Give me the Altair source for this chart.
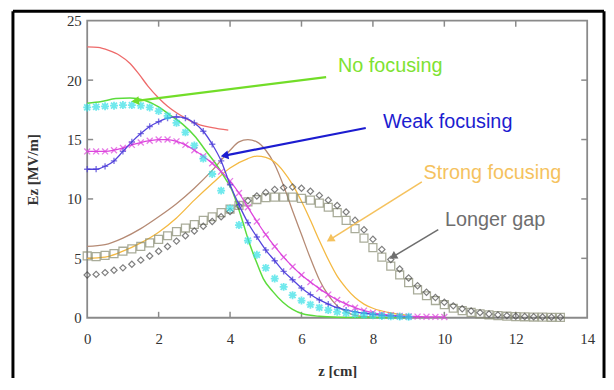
import math
import altair as alt
import pandas as pd

# ---------------- data ----------------
z_grid = [0.0, 0.25, 0.5, 0.75, 1.0, 1.25, 1.5, 1.75, 2.0, 2.25, 2.5, 2.75,
          3.0, 3.25, 3.5, 3.75, 4.0, 4.25, 4.5, 4.75, 5.0, 5.25, 5.5, 5.75,
          6.0, 6.25, 6.5, 6.75, 7.0, 7.25, 7.5, 7.75, 8.0, 8.25, 8.5, 8.75,
          9.0, 9.25, 9.5, 9.75, 10.0, 10.25, 10.5, 10.75, 11.0, 11.25, 11.5,
          11.75, 12.0, 12.25, 12.5, 12.75, 13.0, 13.25]

cyan_E = [17.7, 17.75, 17.8, 17.85, 17.9, 17.9, 17.85, 17.7, 17.4, 17.0, 16.4,
          15.6, 14.5, 13.4, 12.1, 10.7, 9.2, 7.8, 6.5, 5.3, 4.2, 3.3, 2.6, 1.9,
          1.45, 1.1, 0.85, 0.65, 0.5, 0.4, 0.3, 0.25, 0.2, 0.15, 0.12, 0.1, 0.08]

blue_E = [12.5, 12.5, 12.75, 13.2, 14.0, 14.8, 15.5, 16.1, 16.5, 16.8, 16.9,
          16.8, 16.4, 15.7, 14.6, 13.2, 11.2, 9.5, 8.0, 6.8, 5.7, 4.8, 3.9, 3.2,
          2.5, 1.95, 1.5, 1.15, 0.85, 0.65, 0.5, 0.38, 0.28, 0.2, 0.15, 0.1, 0.08]

magenta_E = [14.0, 14.0, 14.0, 14.1, 14.3, 14.55, 14.75, 14.9, 15.0, 15.0, 14.85,
             14.55, 14.1, 13.6, 13.0, 12.3, 11.5, 10.5, 9.3, 8.1, 7.0, 6.0, 5.1,
             4.3, 3.6, 3.0, 2.45, 1.95, 1.5, 1.15, 0.85, 0.6, 0.42, 0.3, 0.22,
             0.16, 0.12, 0.1, 0.08, 0.07, 0.06]

square_E = [5.2, 5.15, 5.25, 5.4, 5.6, 5.8, 6.0, 6.3, 6.6, 6.9, 7.25, 7.55, 7.85,
            8.2, 8.5, 8.85, 9.15, 9.45, 9.75, 9.95, 10.1, 10.15, 10.15, 10.15,
            10.05, 9.9, 9.65, 9.3, 8.85, 8.2, 7.5, 6.7, 5.9, 5.1, 4.35, 3.6, 2.95,
            2.35, 1.85, 1.45, 1.1, 0.8, 0.6, 0.45, 0.33, 0.25, 0.18, 0.13, 0.1,
            0.08, 0.06, 0.05, 0.04, 0.03]

diamond_E = [3.6, 3.65, 3.8, 4.0, 4.2, 4.5, 4.85, 5.2, 5.6, 6.0, 6.45, 6.9, 7.3,
             7.7, 8.1, 8.5, 8.95, 9.4, 9.85, 10.25, 10.55, 10.8, 10.95, 11.0,
             10.9, 10.65, 10.3, 9.9, 9.45, 8.9, 8.2, 7.4, 6.6, 5.75, 4.9, 4.1,
             3.35, 2.7, 2.15, 1.7, 1.3, 1.0, 0.75, 0.57, 0.43, 0.32, 0.24, 0.18,
             0.13, 0.1, 0.08, 0.06, 0.05, 0.04]

red_z = [0.0, 0.3, 0.6, 0.9, 1.2, 1.45, 1.7, 2.0, 2.25, 2.5, 2.75, 3.0, 3.5, 3.95]
red_E = [22.8, 22.75, 22.5, 22.1, 21.4, 20.5, 19.5, 18.5, 17.8, 17.25, 16.8, 16.4, 16.0, 15.8]

green_z = [0.0, 0.4, 0.8, 1.2, 1.6, 2.0, 2.3, 2.67, 3.04, 3.31, 3.59, 3.87, 4.05,
           4.3, 4.55, 4.75, 4.93, 5.2, 5.48, 5.75, 6.03, 6.5, 7.0, 8.0, 9.0]
green_E = [18.05, 18.2, 18.45, 18.5, 18.3, 17.75, 17.1, 16.3, 15.2, 14.1, 13.0,
           11.7, 10.75, 8.6, 6.2, 4.6, 3.3, 2.2, 1.3, 0.7, 0.33, 0.12, 0.05, 0.02, 0.0]

brown_z = [0.0, 0.5, 1.0, 1.5, 2.0, 2.5, 3.0, 3.5, 4.0, 4.25, 4.5, 4.75, 5.0, 5.25,
           5.5, 5.75, 6.0, 6.25, 6.5, 6.75, 7.0, 7.25, 7.5, 8.0, 8.5]
brown_E = [6.0, 6.15, 6.7, 7.5, 8.5, 9.6, 10.9, 12.4, 14.1, 14.8, 15.0, 14.8, 14.1,
           12.9, 11.1, 9.0, 7.0, 5.0, 3.2, 1.9, 1.0, 0.5, 0.2, 0.05, 0.0]

orange_z = [0.0, 0.5, 1.0, 1.5, 2.0, 2.5, 3.0, 3.5, 4.0, 4.5, 4.75, 5.0, 5.25, 5.5,
            5.75, 6.0, 6.25, 6.5, 6.75, 7.0, 7.25, 7.5, 7.75, 8.0, 8.5, 9.0]
orange_E = [5.0, 5.1, 5.6, 6.3, 7.2, 8.4, 9.9, 11.3, 12.6, 13.4, 13.6, 13.5, 13.1,
            12.3, 11.2, 9.8, 8.2, 6.5, 4.9, 3.5, 2.5, 1.7, 1.15, 0.8, 0.4, 0.2]

xtick_values = [0, 2, 4, 6, 8, 10, 12, 14]
ytick_values = [0, 5, 10, 15, 20, 25]
inner_xticks = [2, 4, 6, 8, 10, 12]
inner_yticks = [5, 10, 15, 20]

labels_text = ["No focusing", "Weak focusing", "Strong focusing", "Longer gap"]
labels_z = [7.02, 8.28, 9.42, 10.02]
labels_E = [21.17, 16.44, 12.14, 8.25]
labels_color = ["#7ee232", "#1c1cd0", "#f5c25e", "#6e6e6e"]

arrow_tail_z = [6.69, 7.80, 9.37, 9.83]
arrow_tail_E = [20.25, 15.97, 11.44, 7.42]
arrow_head_z = [1.38, 3.88, 6.83, 8.59]
arrow_head_E = [18.25, 13.67, 6.64, 5.19]
arrow_color = ["#72dd28", "#1c1cd0", "#f5c25e", "#6e6e6e"]
arrow_width = [2.2, 2.2, 1.6, 1.6]

# ---------------- layout ----------------
W, H = 505, 300
PAD = {"left": 80, "top": 11, "right": 19, "bottom": 59}
X_MAX, Y_MAX = 14, 25

xs = alt.Scale(domain=[0, X_MAX], nice=False, zero=False)
ys = alt.Scale(domain=[0, Y_MAX], nice=False, zero=False)
SERIF = "Liberation Serif"
SANS = "Liberation Sans"

x_axis = alt.Axis(
    values=xtick_values, format="d", ticks=False, tickSize=0, domain=False,
    grid=False, labelFlush=False, labelFont=SERIF, labelFontSize=15,
    labelColor="#333333", labelPadding=14, title="z [cm]", titleFont=SERIF,
    titleFontSize=15, titleFontWeight="bold", titleColor="#333333", titleY=53,
    titleBaseline="middle")
y_axis = alt.Axis(
    values=ytick_values, format="d", ticks=False, tickSize=0, domain=False,
    grid=False, labelFlush=False, labelFont=SERIF, labelFontSize=15,
    labelColor="#333333", labelPadding=6, title="Ez [MV/m]", titleFont=SERIF,
    titleFontSize=15, titleFontWeight="bold", titleColor="#333333",
    titleX=-55, titleY=150, titleAngle=270, titleAlign="center",
    titleBaseline="middle")


def X(field):
    return alt.X(f"{field}:Q", scale=xs, axis=x_axis)


def Y(field):
    return alt.Y(f"{field}:Q", scale=ys, axis=y_axis)


def xy():
    return dict(x=X("z"), y=Y("E"))


def df_of(zs, es):
    return pd.DataFrame({"z": zs[:len(es)], "E": es})


layers = []

# inward ticks
TICK = 6
tick_col = "#8a8a8a"
xt = pd.DataFrame({"z": inner_xticks})
yt = pd.DataFrame({"E": inner_yticks})
layers.append(alt.Chart(xt).mark_rule(color=tick_col, strokeWidth=1.5).encode(
    x=X("z"), y=alt.value(H), y2=alt.value(H - TICK)))
layers.append(alt.Chart(xt).mark_rule(color=tick_col, strokeWidth=1.5).encode(
    x=X("z"), y=alt.value(0), y2=alt.value(TICK)))
layers.append(alt.Chart(yt).mark_rule(color=tick_col, strokeWidth=1.5).encode(
    y=Y("E"), x=alt.value(0), x2=alt.value(TICK)))
layers.append(alt.Chart(yt).mark_rule(color=tick_col, strokeWidth=1.5).encode(
    y=Y("E"), x=alt.value(W), x2=alt.value(W - TICK)))

# outer black page frame
FL, FT, FR = -75, -9.5, 522
frame = alt.Chart(pd.DataFrame({"a": [0]}))
layers.append(frame.mark_rule(color="black", strokeWidth=3).encode(
    x=alt.value(FL), x2=alt.value(FR), y=alt.value(FT)))
layers.append(frame.mark_rule(color="black", strokeWidth=3).encode(
    x=alt.value(FL), y=alt.value(FT), y2=alt.value(H + 80)))
layers.append(frame.mark_rule(color="black", strokeWidth=3).encode(
    x=alt.value(FR), y=alt.value(FT), y2=alt.value(H + 80)))

# line-only series
for zs, es, col, w in [(red_z, red_E, "#ee6a6a", 1.3),
                       (brown_z, brown_E, "#b58a74", 1.3),
                       (orange_z, orange_E, "#f4b942", 1.3),
                       (green_z, green_E, "#5cdc3c", 1.5)]:
    d = df_of(zs, es)
    layers.append(alt.Chart(d).mark_line(color=col, strokeWidth=w,
                                         interpolate="monotone").encode(**xy()))

# marker series
plus_path = "M-1,0L1,0M0,-1L0,1"
x_path = "M-1,-1L1,1M-1,1L1,-1"
ast_path = "M-1,0L1,0M0,-1L0,1M-0.75,-0.75L0.75,0.75M-0.75,0.75L0.75,-0.75"

d_sq = df_of(z_grid, square_E)
layers.append(alt.Chart(d_sq).mark_point(shape="square", filled=False,
                                         color="#868a70", strokeWidth=1.3,
                                         size=64).encode(**xy()))
d_di = df_of(z_grid, diamond_E)
layers.append(alt.Chart(d_di).mark_point(shape="diamond", filled=False,
                                         color="#4a4a4a", strokeWidth=1.2,
                                         size=40).encode(**xy()))

d_mg = df_of(z_grid, magenta_E)
layers.append(alt.Chart(d_mg).mark_line(color="#dd44dd", strokeWidth=1.3,
                                        interpolate="monotone").encode(**xy()))
layers.append(alt.Chart(d_mg).mark_point(shape=x_path, filled=False,
                                         color="#dd44dd", strokeWidth=1.3,
                                         size=36).encode(**xy()))

d_bl = df_of(z_grid, blue_E)
layers.append(alt.Chart(d_bl).mark_line(color="#5544dd", strokeWidth=1.3,
                                        interpolate="monotone").encode(**xy()))
layers.append(alt.Chart(d_bl).mark_point(shape=plus_path, filled=False,
                                         color="#4a3cd8", strokeWidth=1.4,
                                         size=40).encode(**xy()))

d_cy = df_of(z_grid, cyan_E)
layers.append(alt.Chart(d_cy).mark_point(shape=ast_path, filled=False,
                                         color="#35e0e6", strokeWidth=1.8,
                                         size=64).encode(**xy()))

# annotation arrows
sx, sy = W / X_MAX, H / Y_MAX
angles = []
for tz, tE, hz, hE in zip(arrow_tail_z, arrow_tail_E, arrow_head_z, arrow_head_E):
    dx = (hz - tz) * sx
    dy = -(hE - tE) * sy
    angles.append(math.degrees(math.atan2(dx, -dy)) % 360)
arr = pd.DataFrame({"z": arrow_tail_z, "E": arrow_tail_E, "z2": arrow_head_z,
                    "E2": arrow_head_E, "c": arrow_color, "w": arrow_width,
                    "ang": angles})
layers.append(alt.Chart(arr).mark_rule().encode(
    x=X("z"), y=Y("E"), x2="z2:Q", y2="E2:Q",
    color=alt.Color("c:N", scale=None),
    strokeWidth=alt.StrokeWidth("w:Q", scale=None)))
layers.append(alt.Chart(arr).mark_point(shape="triangle", filled=True,
                                        size=80, opacity=1).encode(
    x=X("z2"), y=Y("E2"),
    color=alt.Color("c:N", scale=None),
    angle=alt.Angle("ang:Q", scale=None)))

# annotation texts
lab = pd.DataFrame({"z": labels_z, "E": labels_E, "t": labels_text,
                    "c": labels_color})
layers.append(alt.Chart(lab).mark_text(font=SANS, fontSize=20, align="left",
                                       baseline="middle").encode(
    x=X("z"), y=Y("E"), text="t:N", color=alt.Color("c:N", scale=None)))

chart = alt.layer(*layers).properties(
    width=W, height=H,
    autosize=alt.AutoSizeParams(type="none"),
    padding=PAD,
    background="white",
).configure_view(stroke="#8a8a8a", strokeWidth=1.8)

chart.save("out.html", embed_options={"renderer": "svg", "actions": False})
